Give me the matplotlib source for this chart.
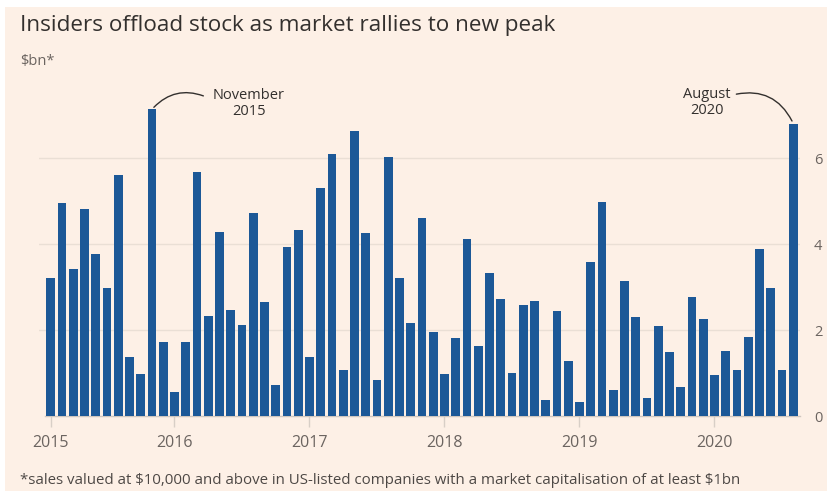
import matplotlib
matplotlib.use("Agg")
import matplotlib.pyplot as plt
from matplotlib.patches import FancyArrowPatch, Rectangle

# Monthly insider sales, Feb 2015 - Aug 2020 ($bn)
values_2015 = [3.22, 4.97, 3.42, 4.81, 3.77, 2.98, 5.61, 1.37, 0.97, 7.14, 1.72]  # Feb-Dec
values_2016 = [0.57, 1.73, 5.69, 2.32, 4.28, 2.47, 2.13, 4.72, 2.65, 0.73, 3.93, 4.34]
values_2017 = [1.37, 5.32, 6.09, 1.06, 6.64, 4.25, 0.83, 6.04, 3.21, 2.17, 4.62, 1.96]
values_2018 = [0.97, 1.82, 4.12, 1.63, 3.32, 2.72, 1.00, 2.58, 2.68, 0.37, 2.45, 1.27]
values_2019 = [0.33, 3.59, 4.99, 0.60, 3.14, 2.31, 0.43, 2.09, 1.49, 0.67, 2.76, 2.25]
values_2020 = [0.95, 1.51, 1.07, 1.84, 3.88, 2.98, 1.06, 6.81]  # Jan-Aug

values = values_2015 + values_2016 + values_2017 + values_2018 + values_2019 + values_2020
year_labels = ["2015", "2016", "2017", "2018", "2019", "2020"]
year_tick_pos = [0, 11, 23, 35, 47, 59]
y_ticks = [0, 2, 4, 6]
y_tick_labels = ["0", "2", "4", "6"]

BG = "#FDF0E6"
BAR = "#1C5897"
GREY = "#6B6460"
FONT = ["Open Sans", "DejaVu Sans"]
plt.rcParams["font.family"] = FONT

W, H = 828, 491
fig = plt.figure(figsize=(W / 100, H / 100), dpi=100)
fig.patch.set_facecolor("white")
fig.add_artist(Rectangle((5 / W, 0), 1, 1 - 7 / H, transform=fig.transFigure,
                         facecolor=BG, edgecolor="none", zorder=-10))

left_px, right_px = 39, 800
zero_px, top_px = 416, 72.4
ax = fig.add_axes([left_px / W, (H - zero_px) / H, (right_px - left_px) / W,
                   (zero_px - top_px) / H])
ax.set_facecolor("none")
x = list(range(len(values)))
ax.bar(x, values, width=0.77, color=BAR, zorder=3)
ax.set_xlim(-1.04, 66.6)
ax.set_ylim(0, 8)

for s in ax.spines.values():
    s.set_visible(False)
for yv in [2, 4, 6]:
    ax.axhline(yv, color="#EADFD5", lw=1, zorder=1)
ax.plot([-0.5, 66.6], [0, 0], color="#CFC6BE", lw=1, zorder=2, clip_on=False)

ax.yaxis.tick_right()
ax.set_yticks(y_ticks)
ax.set_yticklabels(y_tick_labels)
ax.tick_params(axis="y", length=0, pad=10, labelsize=10.5, labelcolor=GREY)
ax.set_xticks(year_tick_pos)
ax.set_xticklabels(year_labels)
ax.tick_params(axis="x", length=8, width=1, color="#D8CFC7", pad=6,
               labelsize=11.5, labelcolor=GREY)

# annotations
nov = year_tick_pos[0] + 9
ax.text(nov + 8.6, 7.27, "November\n2015", ha="center", va="center",
        fontsize=10.5, color="#33302E", linespacing=1.05)
ax.add_patch(FancyArrowPatch((nov + 4.8, 7.43), (nov, values[nov]),
                             connectionstyle="arc3,rad=0.35", arrowstyle="-",
                             color="#33302E", lw=1, clip_on=False))
aug = len(values) - 1
ax.text(aug - 7.7, 7.3, "August\n2020", ha="center", va="center",
        fontsize=10.5, color="#33302E", linespacing=1.05)
ax.add_patch(FancyArrowPatch((aug - 5.3, 7.48), (aug, values[aug]),
                             connectionstyle="arc3,rad=-0.4", arrowstyle="-",
                             color="#33302E", lw=1, clip_on=False))

fig.text(20 / W, 1 - 25 / H, "Insiders offload stock as market rallies to new peak",
         fontsize=16.2, color="#33302E", va="center", ha="left")
fig.text(20 / W, 1 - 61 / H, r"\$bn*", fontsize=10.5, color=GREY, va="center", ha="left")
fig.text(20 / W, 1 - 480 / H,
         r"*sales valued at \$10,000 and above in US-listed companies with a market capitalisation of at least \$1bn",
         fontsize=10.8, color="#4D4845", va="center", ha="left")

fig.savefig("out.png", dpi=100, facecolor=fig.get_facecolor())
